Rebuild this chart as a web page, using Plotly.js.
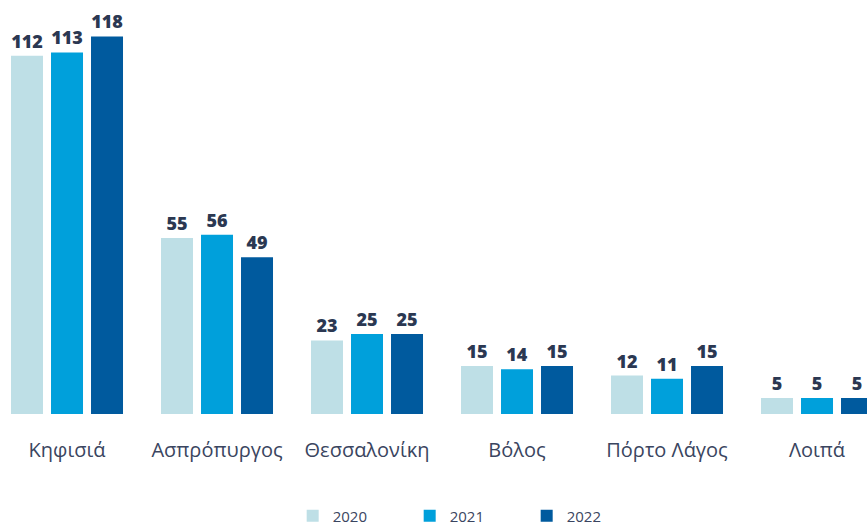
<!DOCTYPE html>
<html>
<head>
<meta charset="utf-8">
<script src="https://cdn.plot.ly/plotly-3.0.1.min.js"></script>
<style>html,body{margin:0;padding:0;background:#fff;}#chart{width:867px;height:525px;}</style>
</head>
<body>
<div id="chart"></div>
<script>
const categories = ["Κηφισιά", "Ασπρόπυργος", "Θεσσαλονίκη", "Βόλος", "Πόρτο Λάγος", "Λοιπά"];
const seriesNames = ["2020", "2021", "2022"];
const values2020 = [112, 55, 23, 15, 12, 5];
const values2021 = [113, 56, 25, 14, 11, 5];
const values2022 = [118, 49, 25, 15, 15, 5];
const colors = ["#BEDFE6", "#00A0DB", "#005A9E"];

const allValues = [values2020, values2021, values2022];
const traces = allValues.map((vals, i) => ({
  type: "bar",
  name: seriesNames[i],
  x: categories,
  y: vals,
  marker: {color: colors[i]},
  text: vals.map(String),
  textposition: "outside",
  cliponaxis: false,
  textfont: {family: "Open Sans", size: 18, color: "#2B3852", weight: 800},
  hoverinfo: "x+y+name"
}));

const layout = {
  width: 867, height: 525,
  margin: {l: 0, r: 0, t: 0, b: 111, pad: 0, autoexpand: false},
  paper_bgcolor: "#fff", plot_bgcolor: "#fff",
  barmode: "group",
  bargap: 0.2,
  bargroupgap: 0.2,
  showlegend: true,
  legend: {
    orientation: "h",
    x: 0.54, xanchor: "center",
    yref: "container",
    y: 0.017, yanchor: "middle",
    font: {family: "Open Sans", size: 15, color: "#3A4560"},
    entrywidth: 72,
    itemwidth: 30,
    traceorder: "normal"
  },
  xaxis: {
    type: "category",
    range: [-0.4467, 5.3333],
    showgrid: false, zeroline: false, showline: false,
    ticks: "",
    ticklabelstandoff: 22,
    automargin: false,
    tickfont: {family: "Open Sans", size: 20, color: "#3A4560"}
  },
  yaxis: {
    range: [0, 129.4],
    showgrid: false, zeroline: false, showline: false,
    showticklabels: false, ticks: "", automargin: false
  },
  font: {family: "Open Sans"}
};

Plotly.newPlot("chart", traces, layout, {displayModeBar: false, staticPlot: true});
</script>
</body>
</html>
